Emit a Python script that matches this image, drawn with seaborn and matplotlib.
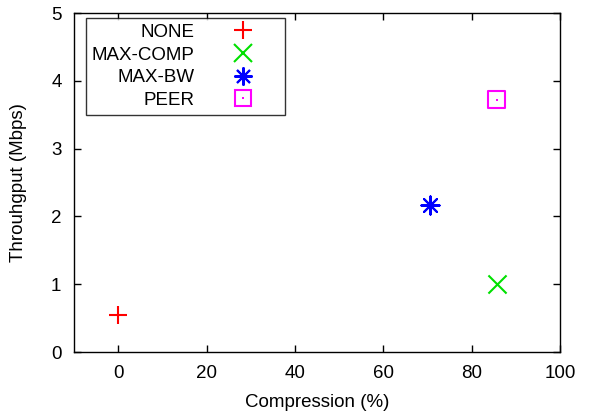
import matplotlib
matplotlib.use("Agg")
import matplotlib.pyplot as plt
from matplotlib.lines import Line2D
import seaborn as sns

# values
series = ["NONE", "MAX-COMP", "MAX-BW", "PEER"]
compression = [0, 85.7, 70.5, 85.7]
throughput = [0.55, 1.0, 2.17, 3.72]
colors = ["#ff0000", "#00e000", "#0000ff", "#ff00ff"]
markers = ["+", "x", (8, 2, 0), "s"]

x_ticks = [0, 20, 40, 60, 80, 100]
y_ticks = [0, 1, 2, 3, 4, 5]

sns.set_theme(style="ticks")
plt.rcParams["font.family"] = ["Liberation Sans", "DejaVu Sans"]
plt.rcParams["text.color"] = "black"
plt.rcParams["axes.labelcolor"] = "black"

FS = 13.5

fig = plt.figure(figsize=(5.9, 4.11), dpi=100)
ax = fig.add_axes([74 / 590, 59 / 411, 486 / 590, 339 / 411])

handles = []
for name, xv, yv, c, m in zip(series, compression, throughput, colors, markers):
    if name == "PEER":
        sns.scatterplot(x=[xv], y=[yv], marker="s", s=150, facecolors="none",
                        edgecolor=c, linewidth=1.5, ax=ax)
        sns.scatterplot(x=[xv], y=[yv], marker="s", s=4, color=c,
                        linewidth=0, ax=ax)
        h = (Line2D([], [], ls="none", marker="s", ms=12, mfc="none",
                    mec=c, mew=1.5),
             Line2D([], [], ls="none", marker="s", ms=2, mfc=c, mec=c, mew=0))
    else:
        sns.scatterplot(x=[xv], y=[yv], marker=m, s=170, color=c,
                        linewidth=1.5, ax=ax)
        h = Line2D([], [], ls="none", marker=m, ms=13, color=c, mew=1.5)
    handles.append(h)

ax.set_xlim(-10, 100)
ax.set_ylim(0, 5)
ax.set_xticks(x_ticks)
ax.set_yticks(y_ticks)
ax.tick_params(direction="in", length=5, width=1, top=True, right=True,
               labelsize=FS, colors="black")
ax.tick_params(axis="x", pad=9)
ax.tick_params(axis="y", pad=9)
for sp in ax.spines.values():
    sp.set_linewidth(1)
    sp.set_color("black")
ax.set_xlabel("Compression (%)", fontsize=FS, labelpad=9)
ax.set_ylabel("Throuhgput (Mbps)", fontsize=FS, labelpad=17)

leg = ax.legend(handles, series, loc="upper left",
                bbox_to_anchor=(12 / 486, 334 / 339), markerfirst=False,
                fancybox=False, frameon=True, fontsize=FS, handlelength=3.9,
                handletextpad=0.62, labelspacing=0.3, borderpad=0.3,
                borderaxespad=0)
leg.get_frame().set_edgecolor("black")
leg.get_frame().set_linewidth(1)

fig.savefig("out.png", dpi=100)
